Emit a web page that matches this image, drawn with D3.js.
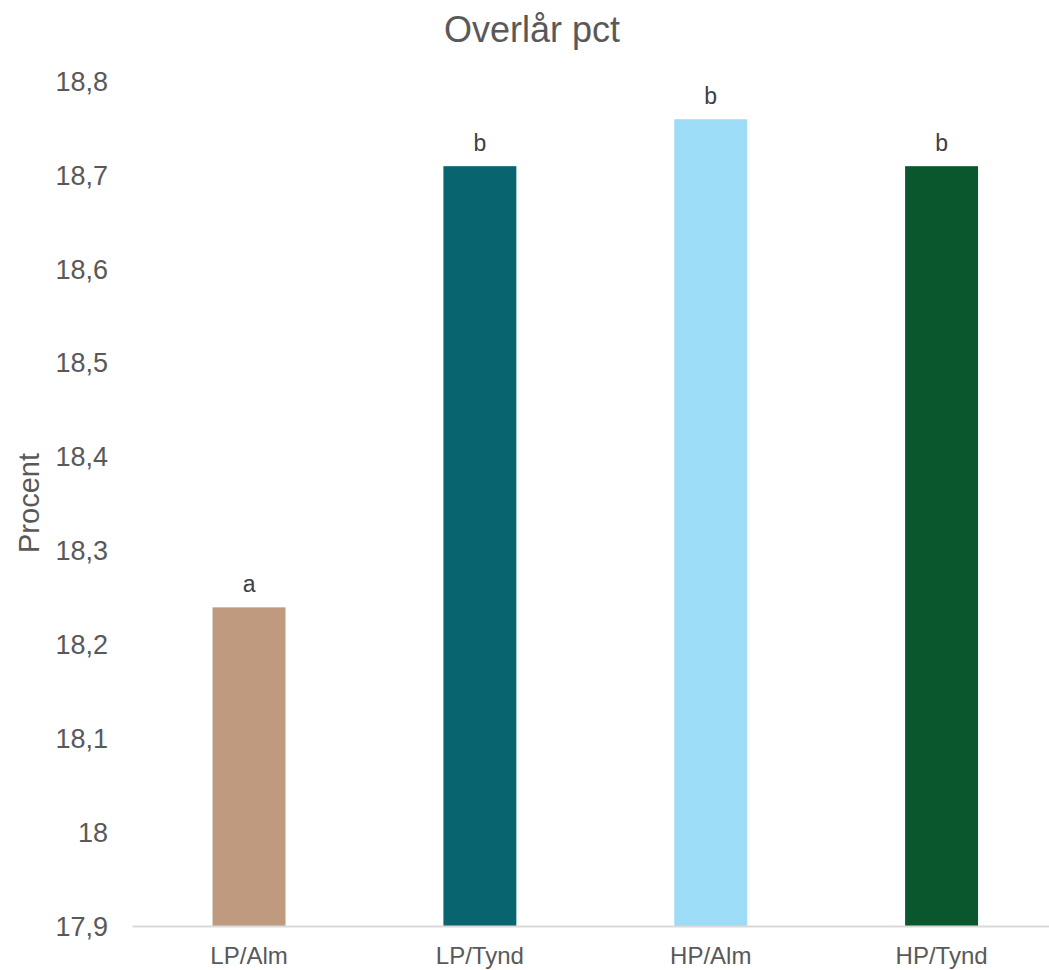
<!DOCTYPE html>
<html>
<head>
<meta charset="utf-8">
<script src="https://cdn.jsdelivr.net/npm/d3@7"></script>
<style>
  html, body { margin: 0; padding: 0; background: #fff; overflow: hidden; }
  svg { display: block; font-family: "Liberation Sans", Arial, sans-serif; }
</style>
</head>
<body>
<svg id="chart" width="1049" height="970"></svg>
<script>
const categories = ["LP/Alm", "LP/Tynd", "HP/Alm", "HP/Tynd"];
const values = [18.24, 18.71, 18.76, 18.71];
const letters = ["a", "b", "b", "b"];
const colors = ["#BF9A7E", "#08646E", "#9DDCF7", "#0B572D"];
const yTicks = [17.9, 18.0, 18.1, 18.2, 18.3, 18.4, 18.5, 18.6, 18.7, 18.8];
const yTickLabels = ["17,9", "18", "18,1", "18,2", "18,3", "18,4", "18,5", "18,6", "18,7", "18,8"];
const title = "Overlår pct";
const yTitle = "Procent";

const W = 1049, H = 970;
const svg = d3.select("#chart");

const plotLeft = 133.6, plotRight = 1057, plotTop = 81.7, plotBottom = 926.5;

const y = d3.scaleLinear().domain([17.9, 18.8]).range([plotBottom, plotTop]);
const x = d3.scaleBand().domain(categories).range([plotLeft, plotRight])
  .paddingInner(0.684).paddingOuter(0.342);

// Title
svg.append("text")
  .attr("x", 532).attr("y", 42)
  .attr("text-anchor", "middle")
  .attr("font-size", 36)
  .attr("fill", "#595959")
  .text(title);

// Y axis (labels only)
const yAxis = d3.axisLeft(y).tickValues(yTicks)
  .tickFormat((d, i) => yTickLabels[i]).tickSize(0).tickPadding(0);
const yg = svg.append("g").attr("transform", `translate(108,0)`).call(yAxis);
yg.select(".domain").remove();
yg.selectAll("text")
  .attr("font-size", 27)
  .attr("fill", "#595959")
  .attr("font-family", "Liberation Sans, Arial, sans-serif");

// Y axis title
svg.append("text")
  .attr("transform", `translate(39,503) rotate(-90)`)
  .attr("text-anchor", "middle")
  .attr("font-size", 29)
  .attr("fill", "#595959")
  .text(yTitle);

// Bars
svg.append("g").selectAll("rect")
  .data(values)
  .join("rect")
  .attr("x", (d, i) => x(categories[i]))
  .attr("width", x.bandwidth())
  .attr("y", d => y(d))
  .attr("height", d => plotBottom - y(d))
  .attr("fill", (d, i) => colors[i]);

// Significance letters
svg.append("g").selectAll("text")
  .data(values)
  .join("text")
  .attr("x", (d, i) => x(categories[i]) + x.bandwidth() / 2)
  .attr("y", d => y(d) - 15)
  .attr("text-anchor", "middle")
  .attr("font-size", 23)
  .attr("fill", "#404040")
  .text((d, i) => letters[i]);

// X axis
const xAxis = d3.axisBottom(x).tickSize(0).tickPadding(0);
const xg = svg.append("g").attr("transform", `translate(0,${plotBottom})`).call(xAxis);
xg.select(".domain").remove();
xg.selectAll("text")
  .attr("font-size", 24)
  .attr("fill", "#595959")
  .attr("dy", null)
  .attr("y", 37)
  .attr("font-family", "Liberation Sans, Arial, sans-serif");

svg.append("line")
  .attr("x1", plotLeft - 1).attr("x2", W)
  .attr("y1", plotBottom).attr("y2", plotBottom)
  .attr("stroke", "#D9D9D9").attr("stroke-width", 2);
</script>
</body>
</html>
